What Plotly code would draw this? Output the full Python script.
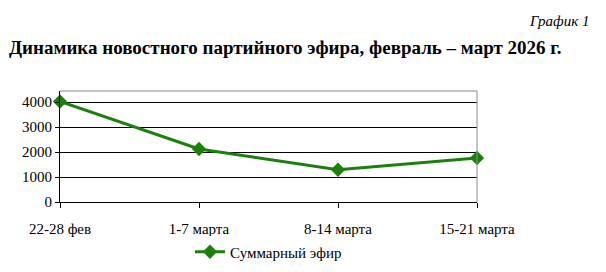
import plotly.graph_objects as go

categories = ["22-28 фев", "1-7 марта", "8-14 марта", "15-21 марта"]
values = [4020, 2120, 1290, 1760]
series_name = "Суммарный эфир"
y_ticks = [0, 1000, 2000, 3000, 4000]

x_pos = list(range(len(categories)))
green = "#1b800c"

fig = go.Figure()
fig.add_trace(go.Scatter(
    x=x_pos, y=values, mode="lines+markers", name=series_name,
    line=dict(color=green, width=3),
    marker=dict(symbol="diamond", size=11, color=green),
    cliponaxis=False,
))

font = "'Times New Roman', 'Liberation Serif', 'DejaVu Serif', serif"
fig.update_layout(
    width=606, height=272,
    margin=dict(l=60, r=129, t=91, b=70, autoexpand=False),
    paper_bgcolor="white", plot_bgcolor="white",
    font=dict(family=font, size=15, color="black"),
    showlegend=True,
    legend=dict(orientation="h", x=190/606, xref="container", xanchor="left",
                y=(272-252)/272, yref="container", yanchor="middle",
                font=dict(size=15, family=font), itemwidth=30),
    xaxis=dict(range=[0, 3], tickvals=x_pos, ticktext=categories,
               showgrid=False, showline=True, linecolor="black", linewidth=1,
               ticks="outside", ticklen=5, tickcolor="black", zeroline=False,
               ticklabelstandoff=8,
               tickfont=dict(size=15, family=font)),
    yaxis=dict(range=[0, 4440], tickvals=y_ticks,
               showgrid=True, gridcolor="black", gridwidth=1,
               showline=True, linecolor="black", linewidth=1,
               ticks="outside", ticklen=4, tickcolor="black", zeroline=False,
               tickfont=dict(size=15, family=font)),
    shapes=[
        dict(type="line", xref="paper", yref="paper", x0=1, x1=1, y0=0, y1=1,
             line=dict(color="#8c8c8c", width=1)),
        dict(type="line", xref="paper", yref="paper", x0=0, x1=1, y0=1, y1=1,
             line=dict(color="#8c8c8c", width=1)),
    ],
    annotations=[
        dict(text="<i>График 1</i>", xref="paper", yref="paper", x=(592-60)/417,
             y=1 + (91-21)/111,
             xanchor="right", yanchor="middle", showarrow=False,
             font=dict(size=15, family=font)),
        dict(text="<b>Динамика новостного партийного эфира, февраль – март 2026 г.</b>",
             xref="paper", yref="paper", x=-53/417, y=1 + (91-48)/111,
             xanchor="left", yanchor="middle", showarrow=False,
             font=dict(size=19, family=font)),
    ],
)

fig.write_html("out.html")
